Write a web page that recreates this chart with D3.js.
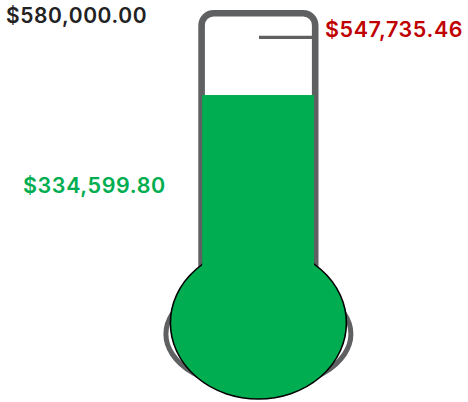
<!DOCTYPE html>
<html>
<head>
<meta charset="utf-8">
<script src="https://cdn.jsdelivr.net/npm/d3@7"></script>
<style>
  html, body { margin: 0; padding: 0; background: #fff; }
  svg { display: block; }
  text { font-family: Inter, "Liberation Sans", Arial, sans-serif; font-weight: 600; letter-spacing: 0.6px; }
</style>
</head>
<body>
<svg id="chart" width="468" height="402"></svg>
<script>
// ---- data ----
const goalValue = [580000];
const raisedValue = [334599.80];
const pledgedValue = [547735.46];
const colors = { goal: "#222222", raised: "#00ad50", pledged: "#c00000", tube: "#5f6062" };

const fmt = d3.format("$,.2f");
const svg = d3.select("#chart");

// value scale (vertical)
const y = d3.scaleLinear().domain([0, goalValue[0]]).range([185.6, 28.6]);
// horizontal geometry of the thermometer
const x = d3.scaleLinear().domain([0, 1]).range([201.6, 315.2]);
const cx = (x(0) + x(1)) / 2;

// gray outer ring of bulb (shadow)
svg.append("ellipse")
  .attr("cx", cx).attr("cy", 334).attr("rx", 92.5).attr("ry", 55)
  .attr("fill", "none").attr("stroke", colors.tube).attr("stroke-width", 5);

// tube
svg.append("rect")
  .attr("x", x(0)).attr("y", 13.2)
  .attr("width", x(1) - x(0)).attr("height", 290)
  .attr("rx", 12).attr("ry", 12)
  .attr("fill", "#fff").attr("stroke", colors.tube).attr("stroke-width", 6.6);

// bulb
svg.append("ellipse")
  .attr("cx", cx).attr("cy", 323).attr("rx", 88).attr("ry", 76)
  .attr("fill", colors.raised).attr("stroke", "#000").attr("stroke-width", 1.6);

// mercury column
svg.selectAll("rect.fill").data(raisedValue).join("rect")
  .attr("class", "fill")
  .attr("x", x(0) + 0.6).attr("width", x(1) - x(0) - 1.8)
  .attr("y", d => y(d)).attr("height", d => 300 - y(d))
  .attr("fill", colors.raised);

// pledged marker
svg.selectAll("line.marker").data(pledgedValue).join("line")
  .attr("class", "marker")
  .attr("x1", 259).attr("x2", x(1))
  .attr("y1", d => y(d)).attr("y2", d => y(d))
  .attr("stroke", colors.tube).attr("stroke-width", 3.4);

// labels
svg.selectAll("text.goal").data(goalValue).join("text")
  .attr("class", "goal")
  .attr("x", 6).attr("y", 23)
  .attr("fill", colors.goal).attr("font-size", 21)
  .text(d => fmt(d));

svg.selectAll("text.pledged").data(pledgedValue).join("text")
  .attr("class", "pledged")
  .attr("x", 325).attr("y", 36.7)
  .attr("fill", colors.pledged).attr("font-size", 21.5)
  .text(d => fmt(d));

svg.selectAll("text.raised").data(raisedValue).join("text")
  .attr("class", "raised")
  .attr("x", 23).attr("y", 193.3)
  .attr("fill", colors.raised).attr("font-size", 21.5)
  .text(d => fmt(d));
</script>
</body>
</html>
